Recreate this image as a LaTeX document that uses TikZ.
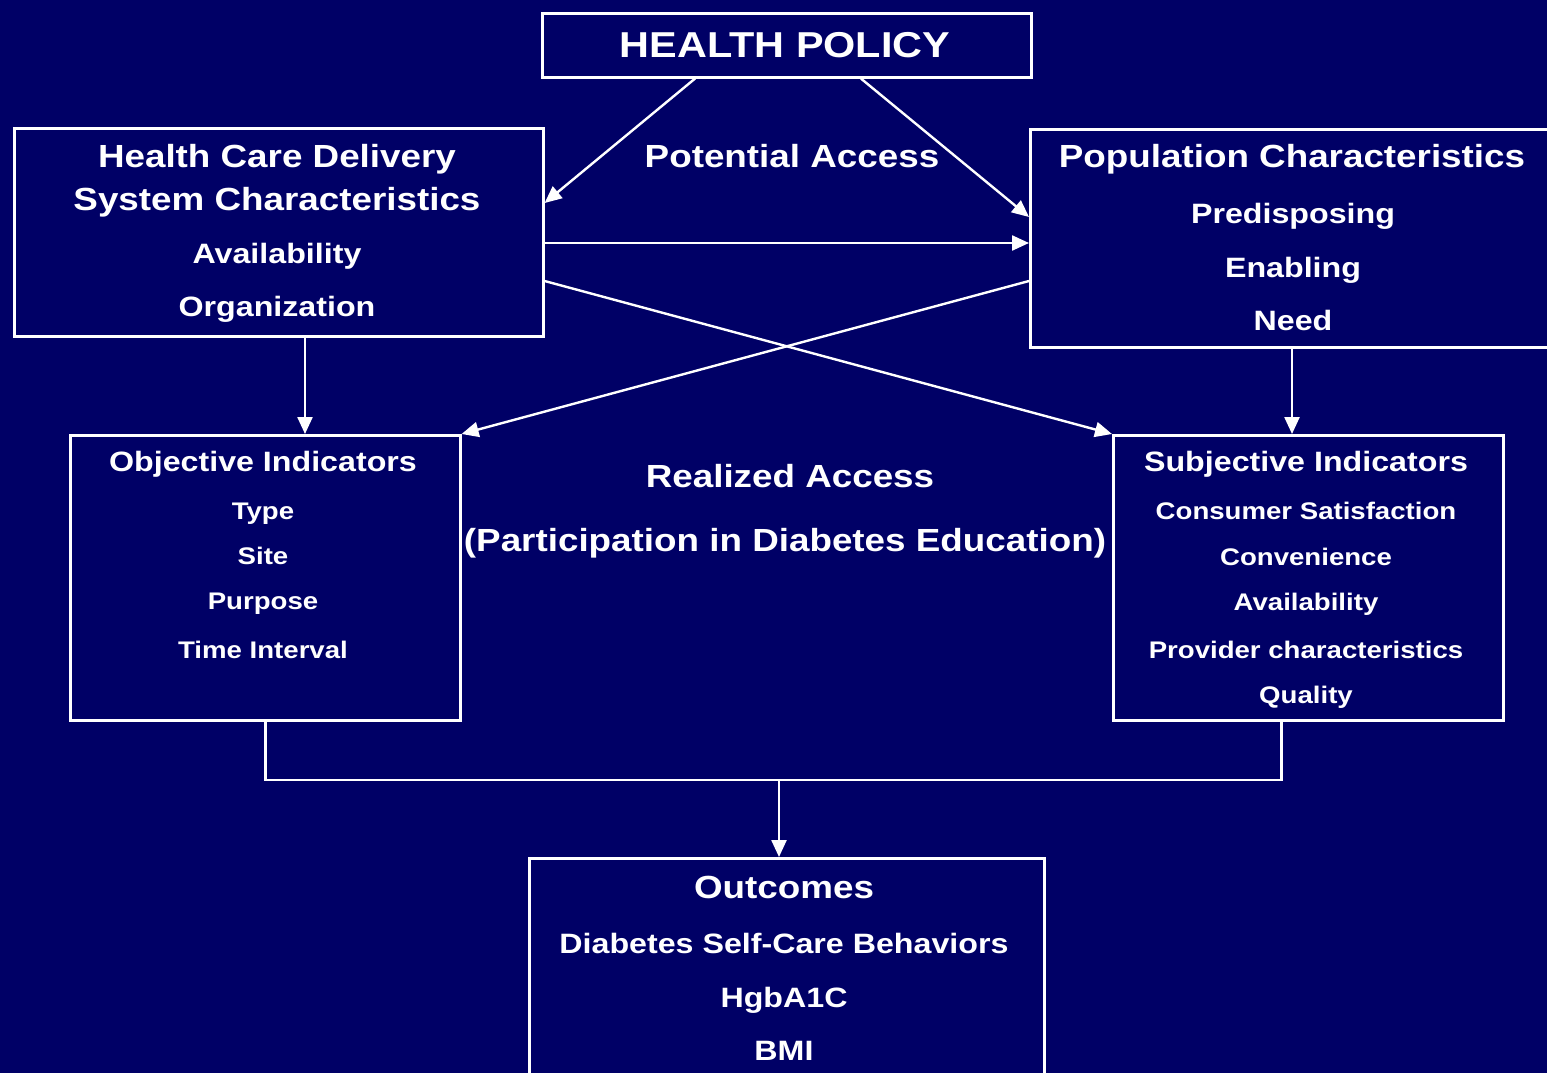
\documentclass[tikz,border=0pt]{standalone}
\usepackage{fontspec}
\setmainfont{Liberation Sans}[FakeStretch=1.15]
\usetikzlibrary{arrows.meta,calc}
\definecolor{slideblue}{RGB}{0,0,102}

\begin{document}
\begin{tikzpicture}[x=1pt,y=-1pt,white,line width=2.4pt,
		>={Triangle[length=17pt,width=15pt]},
		box/.style={draw=white,line width=2.6pt,inner sep=0pt,anchor=north west},
		label/.style={text=white,anchor=base,inner sep=0pt},
		title/.style={label,font=\bfseries\fontsize{36}{40}\selectfont},
		head/.style={label,font=\bfseries\fontsize{32}{36}\selectfont},
		item/.style={label,font=\bfseries\fontsize{28}{32}\selectfont},
		small/.style={label,font=\bfseries\fontsize{24}{28}\selectfont}]
		\useasboundingbox (0,0) rectangle (1547,1073);
		\clip (0,0) rectangle (1547,1073);
		\fill [slideblue] (0,0) rectangle (1547,1073);
		% boxes
			\node [box,minimum width=489pt,minimum height=64pt] (policy) at (541,12) {};
			\node [box,minimum width=529pt,minimum height=208pt] (delivery) at (13,127) {};
			\node [box,minimum width=527pt,minimum height=218pt] (population) at (1029,128) {};
			\node [box,minimum width=390pt,minimum height=285pt] (objective) at (69,434) {};
			\node [box,minimum width=390pt,minimum height=285pt] (subjective) at (1112,434) {};
			\node [box,minimum width=515pt,minimum height=240pt] (outcomes) at (528,857) {};
		% health policy
			\node [title] (policy-t) at (785,58) {HEALTH POLICY};
			\node [head] (potential) at (792,167) {Potential Access};
		% delivery system
			\node [head] (delivery-t1) at (277,167) {Health Care Delivery};
			\node [head] (delivery-t2) at (277,210) {System Characteristics};
			\node [item] (avail) at (277,263) {Availability};
			\node [item] (organ) at (277,316) {Organization};
		% population
			\node [head] (population-t) at (1292,167) {Population Characteristics};
			\node [item] (predis) at (1293,223) {Predisposing};
			\node [item] (enabl) at (1293,277) {Enabling};
			\node [item] (need) at (1293,330) {Need};
		% realized access
			\node [head] (realized) at (790,487) {Realized Access};
			\node [head] (particip) at (785,551) {(Participation in Diabetes Education)};
		% objective indicators
			\node [item] (objective-t) at (263,471) {Objective Indicators};
			\node [small] (type) at (263,519) {Type};
			\node [small] (site) at (263,564) {Site};
			\node [small] (purpose) at (263,609) {Purpose};
			\node [small] (interval) at (263,658) {Time Interval};
		% subjective indicators
			\node [item] (subjective-t) at (1306,471) {Subjective Indicators};
			\node [small] (satisf) at (1306,519) {Consumer Satisfaction};
			\node [small] (conven) at (1306,565) {Convenience};
			\node [small] (avail2) at (1306,610) {Availability};
			\node [small] (provider) at (1306,658) {Provider characteristics};
			\node [small] (quality) at (1306,703) {Quality};
		% outcomes
			\node [head] (outcomes-t) at (784,898) {Outcomes};
			\node [item] (selfcare) at (784,953) {Diabetes Self-Care Behaviors};
			\node [item] (hgb) at (784,1007) {HgbA1C};
			\node [item] (bmi) at (784,1060) {BMI};
		% potential access arrows
			\draw [->] ($(policy.south west)+(154,0)$) -- ($(delivery.north east)+(0,76)$);
			\draw [->] ($(policy.south west)+(320,0)$) -- ($(population.north west)+(0,89)$);
			\draw [->] ($(delivery.north east)+(0,116)$) -- ($(population.north west)+(0,115)$);
		% crossing arrows
			\draw [->] ($(delivery.north east)+(0,154)$) -- (subjective.north west);
			\draw [->] ($(population.north west)+(0,153)$) -- (objective.north east);
			\draw [->] ($(delivery.south west)+(292,0)$) -- ($(objective.north west)+(236,0)$);
			\draw [->] ($(population.south west)+(263,0)$) -- ($(subjective.north west)+(180,0)$);
		% join to outcomes
			\coordinate (join) at (779,780);
			\draw (objective.south) -- (objective.south |- join) -| ($(subjective.south)+(-27,0)$);
			\draw [->] (join) -- (join |- outcomes.north);
	\end{tikzpicture}
\end{document}
